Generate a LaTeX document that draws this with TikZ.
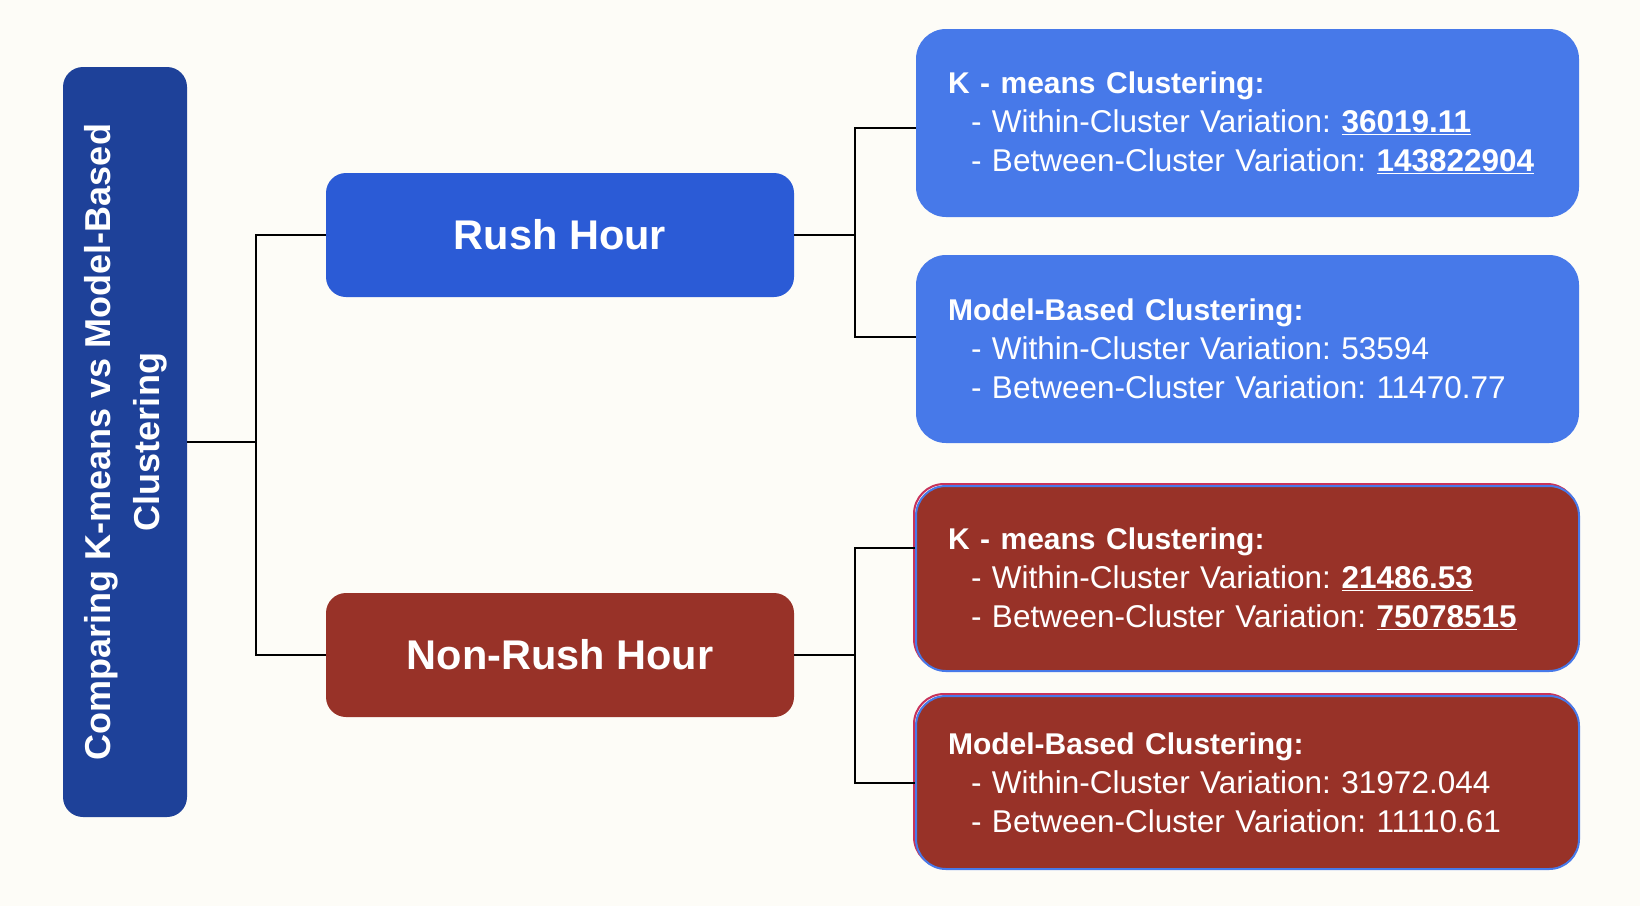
\documentclass[tikz,border=0pt]{standalone}
\usepackage{fontspec}
\setmainfont{Liberation Sans}
\usepackage{graphicx}
\frenchspacing
\definecolor{paper}{HTML}{FDFCF7}
\definecolor{rootblue}{HTML}{1E4199}
\definecolor{rushblue}{HTML}{2B5BD6}
\definecolor{leafblue}{HTML}{4779E9}
\definecolor{nonrushred}{HTML}{983228}
\definecolor{peekred}{HTML}{C8325A}
\newcommand{\uval}[1]{\underline{\textbf{#1}}}
\tikzset{
  wire/.style={draw=black, line width=2pt},
  rootbox/.style={fill=rootblue, rounded corners=20pt, minimum width=124pt, minimum height=750pt, inner sep=0pt, text=white, font=\bfseries\fontsize{36}{49}\selectfont},
  groupbox/.style={rounded corners=20pt, minimum width=468pt, minimum height=124pt, inner sep=0pt, text=white, font=\bfseries\fontsize{41.5}{50}\selectfont},
  leafbox/.style={rounded corners=30pt, minimum height=188pt, text width=599pt, inner xsep=32pt, inner ysep=0pt, align=left, text=white, font=\fontsize{31.5}{39}\selectfont},
  redleaf/.style={leafbox, fill=nonrushred, draw=leafblue, line width=2pt, preaction={draw=peekred, line width=2pt, transform canvas={xshift=-2pt, yshift=2pt}}},
}
\newcommand{\leafhead}[1]{{\bfseries\fontsize{30}{39}\selectfont #1}}
\begin{document}
\begin{tikzpicture}[x=1pt, y=-1pt]
	\fill[paper] (0,0) rectangle (1640,906);
	\useasboundingbox (0,0) rectangle (1640,906);
	% left title
	\node[rootbox] (title) at (125,442) {\rotatebox{90}{\begin{tabular}{@{}c@{}}Comparing K-means vs Model-Based\\Clustering\end{tabular}}};
	% middle
	\node[groupbox, fill=rushblue] (rush) at (560,235) {Rush Hour};
	\node[groupbox, fill=nonrushred] (nonrush) at (560,655) {Non-Rush Hour};
	% right
	\node[leafbox, fill=leafblue] (km1) at (1247.5,123) {\leafhead{K - means Clustering:}\\
		\hspace*{23pt}- Within-Cluster Variation: \uval{36019.11}\\
		\hspace*{23pt}- Between-Cluster Variation: \uval{143822904}};
	\node[leafbox, fill=leafblue] (mb1) at (1247.5,349) {\leafhead{Model-Based Clustering:}\\
		\hspace*{23pt}- Within-Cluster Variation: 53594\\
		\hspace*{23pt}- Between-Cluster Variation: 11470.77};
	\node[redleaf, minimum height=185pt] (km2) at (1247.5,578.5) {\leafhead{K - means Clustering:}\\
		\hspace*{23pt}- Within-Cluster Variation: \uval{21486.53}\\
		\hspace*{23pt}- Between-Cluster Variation: \uval{75078515}};
	\node[redleaf, minimum height=173pt] (mb2) at (1247.5,782.5) {\leafhead{Model-Based Clustering:}\\
		\hspace*{23pt}- Within-Cluster Variation: 31972.044\\
		\hspace*{23pt}- Between-Cluster Variation: 11110.61};
	% connectors
	\draw[wire] (title.east) -- ++(69,0) coordinate (fork);
	\draw[wire] (fork) |- (rush.west);
	\draw[wire] (fork) |- (nonrush.west);
	\draw[wire] (rush.east) -- ++(61,0) coordinate (forkA);
	\draw[wire] (forkA) |- ([yshift=-5pt]km1.west);
	\draw[wire] (forkA) |- ([yshift=12pt]mb1.west);
	\draw[wire] (nonrush.east) -- ++(61,0) coordinate (forkB);
	\draw[wire] (forkB) |- ([yshift=31pt]km2.west);
	\draw[wire] (forkB) |- (mb2.west);
\end{tikzpicture}
\end{document}
